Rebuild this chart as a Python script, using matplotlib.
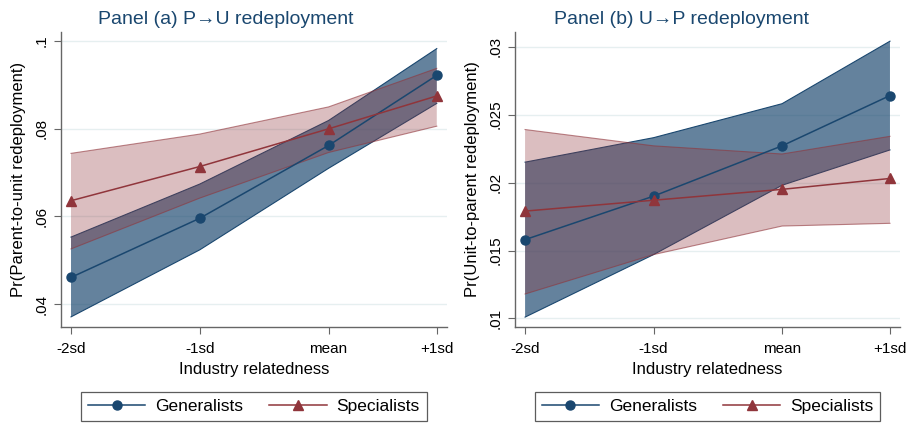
import numpy as np
import matplotlib.pyplot as plt

plt.rcParams['font.family'] = ['Liberation Sans', 'DejaVu Sans']

# x positions of the four relatedness levels (spacing as drawn)
xpos = [0, 1, 2, 2.84]
xlabels = ["-2sd", "-1sd", "mean", "+1sd"]

# Panel (a) P->U
a_gen = [0.0461, 0.0596, 0.0762, 0.0922]
a_gen_lo = [0.0371, 0.0524, 0.0710, 0.0858]
a_gen_hi = [0.0553, 0.0674, 0.0819, 0.0983]
a_spe = [0.0636, 0.0714, 0.0800, 0.0875]
a_spe_lo = [0.0526, 0.0642, 0.0746, 0.0806]
a_spe_hi = [0.0744, 0.0788, 0.0850, 0.0938]

# Panel (b) U->P
b_gen = [0.0158, 0.0190, 0.0227, 0.0264]
b_gen_lo = [0.0101, 0.0147, 0.0198, 0.0224]
b_gen_hi = [0.0215, 0.0233, 0.0258, 0.0304]
b_spe = [0.0179, 0.0187, 0.0195, 0.0203]
b_spe_lo = [0.0118, 0.0147, 0.0168, 0.0170]
b_spe_hi = [0.0239, 0.0227, 0.0221, 0.0234]

navy = "#1a476f"
maroon = "#90353b"

fig = plt.figure(figsize=(9.1, 4.26), dpi=100)
ax1 = fig.add_axes([0.067, 0.232, 0.424, 0.693])
ax2 = fig.add_axes([0.566, 0.232, 0.423, 0.693])


def draw(ax, gen, glo, ghi, spe, slo, shi, yticks, ytl, ylim, ylabel):
    ax.fill_between(xpos, glo, ghi, facecolor=navy, alpha=0.68, edgecolor="none", zorder=2)
    ax.plot(xpos, glo, color=navy, lw=0.8, zorder=2)
    ax.plot(xpos, ghi, color=navy, lw=0.8, zorder=2)
    ax.fill_between(xpos, slo, shi, facecolor=maroon, alpha=0.32, edgecolor="none", zorder=3)
    ax.plot(xpos, slo, color=maroon, lw=0.8, alpha=0.6, zorder=3)
    ax.plot(xpos, shi, color=maroon, lw=0.8, alpha=0.6, zorder=3)
    ax.plot(xpos, gen, color=navy, lw=1.1, marker="o", ms=6.5, label="Generalists", zorder=5)
    ax.plot(xpos, spe, color=maroon, lw=1.1, marker="^", ms=6.5, label="Specialists", zorder=5)

    ax.set_xlim(-0.078, 2.918)
    ax.set_ylim(*ylim)
    ax.set_xticks(xpos)
    ax.set_xticklabels(xlabels, fontsize=11)
    ax.set_yticks(yticks)
    ax.set_yticklabels(ytl, fontsize=11, rotation=90, va="center")
    ax.grid(axis="y", color="#e6eff0", lw=1.0, zorder=0)
    ax.set_axisbelow(True)
    for s in ["top", "right"]:
        ax.spines[s].set_visible(False)
    for s in ["left", "bottom"]:
        ax.spines[s].set_color("#666666")
        ax.spines[s].set_linewidth(1.0)
    ax.tick_params(axis="x", length=5, color="#666666", pad=6)
    ax.tick_params(axis="y", length=5, color="#666666", pad=4)
    ax.set_xlabel("Industry relatedness", fontsize=12, labelpad=4)
    ax.set_ylabel(ylabel, fontsize=12, labelpad=6)
    leg = ax.legend(loc="center", bbox_to_anchor=(0.5, -0.27), ncol=2, fontsize=12.5,
                    frameon=True, fancybox=False, edgecolor="#333333",
                    handlelength=3.3, handletextpad=0.57, columnspacing=1.5,
                    borderpad=0.4, borderaxespad=0)
    leg.get_frame().set_linewidth(0.9)


draw(ax1, a_gen, a_gen_lo, a_gen_hi, a_spe, a_spe_lo, a_spe_hi,
     [0.04, 0.06, 0.08, 0.1], [".04", ".06", ".08", ".1"], (0.03475, 0.1021),
     "Pr(Parent-to-unit redeployment)")
draw(ax2, b_gen, b_gen_lo, b_gen_hi, b_spe, b_spe_lo, b_spe_hi,
     [0.01, 0.015, 0.02, 0.025, 0.03], [".01", ".015", ".02", ".025", ".03"], (0.00936, 0.03108),
     "Pr(Unit-to-parent redeployment)")

fig.text(226 / 910, 1 - 19 / 426, "Panel (a) P\u2192U redeployment", fontsize=14,
         color=navy, ha="center", va="center")
fig.text(681 / 910, 1 - 19 / 426, "Panel (b) U\u2192P redeployment", fontsize=14,
         color=navy, ha="center", va="center")

fig.savefig("out.png", dpi=100)
